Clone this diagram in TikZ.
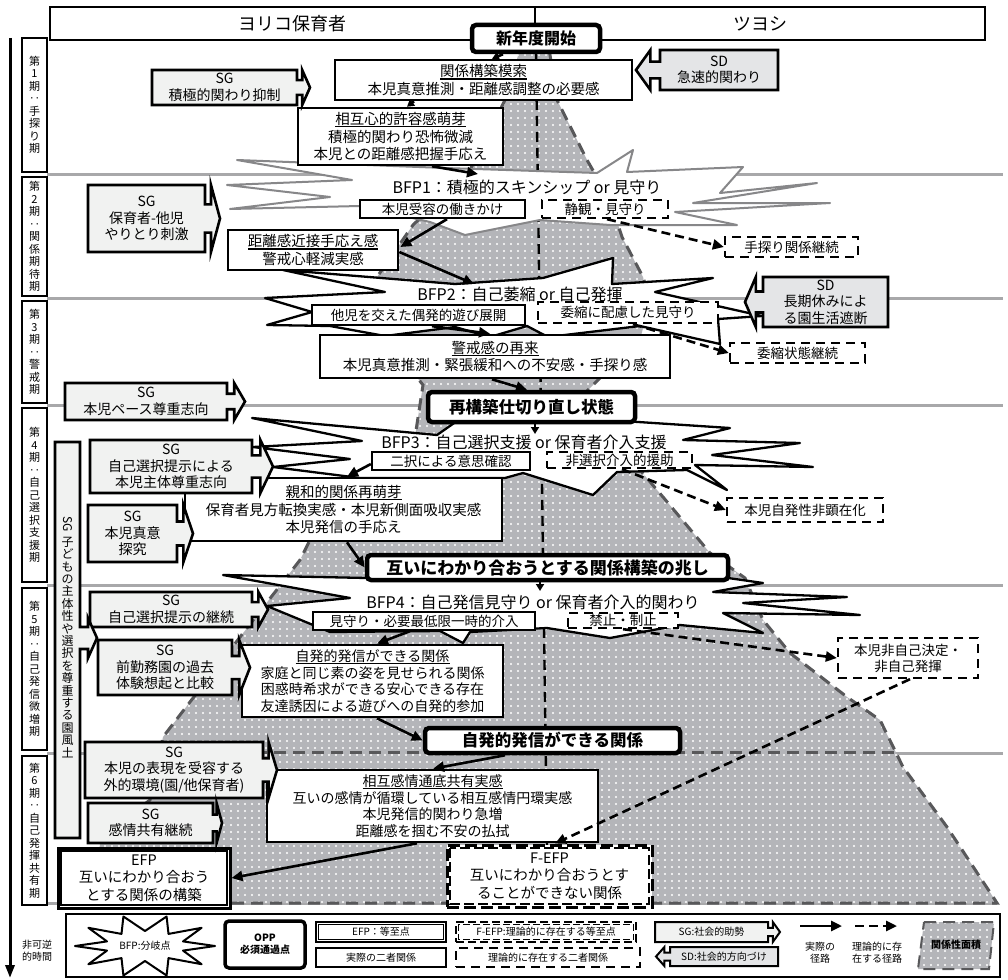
\documentclass[tikz,border=0pt]{standalone}
\usepackage{fontspec}
\setmainfont{Noto Sans CJK JP}
\usetikzlibrary{arrows.meta,patterns.meta,calc}
\definecolor{areagray}{RGB}{180,181,185}
\definecolor{edgegray}{RGB}{88,88,90}
\definecolor{phgray}{RGB}{168,168,170}
\definecolor{sgfill}{RGB}{241,242,241}
\definecolor{sdfill}{RGB}{228,229,231}
\definecolor{bfpgray}{RGB}{135,135,137}
\newcommand\ulfor[5]{%
 \pgfmathsetmacro\ulhalf{#5*#4/2}%
 \pgfmathsetmacro\uly{0.5*#4-(#2-1)*#3/2+0.5}%
 \draw[line width=1.1pt, black] ($(#1.center)+(-\ulhalf,\uly)$) -- ++(2*\ulhalf,0);}
\tikzset{
 bx/.style={draw=black, line width=2.6pt, fill=white, inner sep=0pt, align=center, font=\fontsize{14.5}{17.5}\selectfont},
 bxf/.style={bx, font=\fontsize{14}{16.6}\selectfont},
 sbx/.style={draw=black, line width=2.3pt, fill=white, inner sep=0pt, align=center, font=\fontsize{13.5}{16}\selectfont},
 dbx/.style={sbx, dash pattern=on 9pt off 6pt},
 opp/.style={draw=black, line width=4.5pt, rounded corners=4pt, fill=white, inner sep=0pt, align=center, font=\fontsize{16}{19}\selectfont\bfseries},
 phbox/.style={draw=black, line width=2.6pt, fill=white, inner sep=0pt, align=center, font=\fontsize{11}{12.5}\selectfont},
 hdr/.style={draw=black, line width=2.4pt, fill=white, inner sep=0pt, font=\fontsize{18}{20}\selectfont},
 callst/.style={draw=black, line width=2.6pt, line join=miter},
 txt/.style={inner sep=0pt, align=center, font=\fontsize{14}{16.5}\selectfont},
 bfptxt/.style={inner sep=0pt, font=\fontsize{16}{18}\selectfont},
 lg/.style={inner sep=0pt, align=center, font=\fontsize{10}{12}\selectfont},
 bfpg/.style={draw=bfpgray, line width=2pt, fill=white, line join=round},
 bfpk/.style={draw=black, line width=2.3pt, fill=white, line join=round},
 arr/.style={line width=2.6pt, -{Triangle[length=11pt,width=10pt]}},
 arrs/.style={line width=2.6pt, -{Triangle[length=7pt,width=8pt]}},
 darr/.style={line width=2.6pt, dash pattern=on 9pt off 5pt, -{Triangle[length=11pt,width=10pt]}},
 phl/.style={draw=phgray, line width=3pt},
 area/.style={preaction={fill=areagray}, pattern={Dots[distance=7pt,radius=1.05pt]}, pattern color=white, draw=edgegray, line width=3pt, dash pattern=on 12pt off 7pt}
}
\newcommand\rbox[7]{\node[#6, minimum width={(#4)-(#2)}, minimum height={(#5)-(#3)}] (#1) at ({((#2)+(#4))/2},{((#3)+(#5))/2}) {#7};}
\newcommand\sgR[8]{%
 \pgfmathsetmacro\myCy{(#3+#5)/2}%
 \pgfmathsetmacro\myNh{(#5-#3)*0.21}%
 \pgfmathsetmacro\myXn{#4+(#6-#4)*0.4}%
 \draw[callst, fill=#7] (#2,#3) -- (#4,#3) -- (#4,\myCy-\myNh) -- (\myXn,\myCy-\myNh) -- (\myXn,#3) -- (#6,\myCy) -- (\myXn,#5) -- (\myXn,\myCy+\myNh) -- (#4,\myCy+\myNh) -- (#4,#5) -- (#2,#5) -- cycle;
 \node[txt] (#1) at ({(#2+#4)/2},\myCy) {#8};}
\newcommand\sdL[8]{%
 \pgfmathsetmacro\myCy{(#3+#5)/2}%
 \pgfmathsetmacro\myNh{(#5-#3)*0.21}%
 \pgfmathsetmacro\myXn{#2-(#2-#6)*0.4}%
 \draw[callst, fill=#7] (#4,#3) -- (#2,#3) -- (#2,\myCy-\myNh) -- (\myXn,\myCy-\myNh) -- (\myXn,#3) -- (#6,\myCy) -- (\myXn,#5) -- (\myXn,\myCy+\myNh) -- (#2,\myCy+\myNh) -- (#2,#5) -- (#4,#5) -- cycle;
 \node[txt] (#1) at ({(#2+#4)/2},\myCy) {#8};}
\begin{document}
\begin{tikzpicture}[x=1pt,y=-1pt]
\useasboundingbox (0,0) rectangle (1008,979);
\fill[white] (0,0) rectangle (1008,979);
% phase lines
\foreach \yy in {174,298,405,585,753}{\draw[phl] (47,\yy) -- (1003,\yy);}
\draw[phl] (47,903) -- (997,903);
% relation area
\draw[area] (522,42) -- (548,42) -- (557,100) -- (587,160) -- (610,200) -- (622,237) -- (643,277) -- (650,300) -- (640,340) -- (600,378) -- (586,392) -- (592,420) -- (640,470) -- (663,497) -- (710,553) -- (745,578) -- (763,620) -- (790,653) -- (847,697) -- (880,720) -- (903,767) -- (947,827) -- (997,903) -- (98,903) -- (100,838) -- (150,800) -- (163,737) -- (247,628) -- (300,560) -- (320,520) -- (415,437) -- (423,385) -- (380,330) -- (377,277) -- (413,225) -- (470,170) -- (505,100) -- cycle;
\draw[edgegray, line width=3pt, dash pattern=on 12pt off 7pt] (160,752) -- (900,752);
% divider
\coordinate (divtop) at (536,52); \coordinate (divbot) at (547,845);
\draw[line width=2.4pt, dash pattern=on 10pt off 6pt] (divtop) -- (divbot);
% BFP shapes
\draw[bfpg] (227,185) -- (352,180) -- (237,160) -- (445,168) -- (597,173) -- (633,150) -- (627,172) -- (743,167) -- (720,193) -- (817,183) -- (693,203) -- (830,203) -- (675,212) -- (737,225) -- (610,225) -- (540,220) -- (465,235) -- (430,222) -- (360,206) -- (230,209) -- (330,197) -- cycle;
\draw[bfpk] (265,298) -- (385,292) -- (283,270) -- (455,284) -- (543,278) -- (613,258) -- (612,284) -- (713,278) -- (655,292) -- (762,316) -- (718,319) -- (720,344) -- (640,326) -- (548,337) -- (527,326) -- (490,337) -- (455,327) -- (385,336) -- (330,326) -- (267,325) -- (312,312) -- cycle;
\draw[bfpk] (623,421) -- (457,421) -- (437,435) -- (252,418) -- (362,441) -- (253,447) -- (350,459) -- (273,467) -- (360,478) -- (505,478) -- (523,473) -- (593,495) -- (617,472) -- (687,470) -- (727,490) -- (695,465) -- (813,467) -- (712,455) -- (800,443) -- (683,440) -- (730,428) -- cycle;
\draw[bfpk] (223,575) -- (367,578) -- (728,578) -- (763,583) -- (713,592) -- (847,597) -- (743,603) -- (860,615) -- (723,613) -- (763,633) -- (680,625) -- (610,638) -- (547,628) -- (470,632) -- (463,643) -- (440,631) -- (330,632) -- (267,606) -- (350,598) -- cycle;
\node[bfptxt] (bfp1t) at (527,187) {BFP1：積極的スキンシップ or 見守り};
\node[bfptxt] (bfp2t) at (520,294) {BFP2：自己萎縮 or 自己発揮};
\node[bfptxt] (bfp3t) at (524,442) {BFP3：自己選択支援 or 保育者介入支援};
\node[bfptxt] (bfp4t) at (533,602) {BFP4：自己発信見守り or 保育者介入的関わり};
\coordinate (bfp1in) at (478,174);
\coordinate (bfp2in) at (474,284);
\coordinate (bfp3in) at (535,434);
\coordinate (bfp4in) at (540,591);
% header
\node[hdr, minimum width=485, minimum height=33] (hdrL) at (292.5,23.5) {ヨリコ保育者};
\node[hdr, minimum width=450, minimum height=33] (hdrR) at (760,23.5) {ツヨシ};
% time axis
\coordinate (axtop) at (10,38); \coordinate (axbot) at (10,978);
\draw[line width=3pt, -{Triangle[length=13pt,width=9pt]}] (axtop) -- (axbot);
\node[lg] (irrev) at (37,951) {非可逆\\的時間};
% phase labels
\rbox{p1}{22}{38}{47}{172}{phbox}{第\\1\\期\\‥\\手\\探\\り\\期}
\rbox{p2}{22}{177}{47}{296}{phbox}{第\\2\\期\\‥\\関\\係\\期\\待\\期}
\rbox{p3}{22}{301}{47}{403}{phbox}{第\\3\\期\\‥\\警\\戒\\期}
\rbox{p4}{22}{408}{47}{582}{phbox}{第\\4\\期\\‥\\自\\己\\選\\択\\支\\援\\期}
\rbox{p5}{22}{588}{47}{750}{phbox}{第\\5\\期\\‥\\自\\己\\発\\信\\微\\増\\期}
\rbox{p6}{22}{756}{47}{905}{phbox}{第\\6\\期\\‥\\自\\己\\発\\揮\\共\\有\\期}
% boxes
\rbox{shin}{472}{25}{600}{52}{opp}{新年度開始}
\rbox{kan}{335}{60}{632}{100}{bx}{関係構築模索\\本児真意推測・距離感調整の必要感}
\rbox{sogo}{298}{108}{503}{165}{bx}{相互心的許容感萌芽\\積極的関わり恐怖微減\\本児との距離感把握手応え}
\rbox{juyo}{360}{200}{525}{218}{sbx}{本児受容の働きかけ}
\rbox{seikan}{542}{200}{668}{218}{dbx}{静観・見守り}
\rbox{kyori}{228}{230}{398}{270}{bx}{距離感近接手応え感\\警戒心軽減実感}
\rbox{tesaguri}{725}{237}{858}{257}{dbx}{手探り関係継続}
\rbox{tajiasobi}{312}{305}{525}{325}{sbx}{他児を交えた偶発的遊び展開}
\rbox{ishuku}{538}{302}{718}{323}{dbx}{委縮に配慮した見守り}
\rbox{ishukuK}{730}{343}{865}{363}{dbx}{委縮状態継続}
\rbox{keikai}{320}{335}{670}{378}{bx}{警戒感の再来\\本児真意推測・緊張緩和への不安感・手探り感}
\rbox{saikou}{428}{392}{635}{422}{opp, font=\fontsize{16.5}{19}\selectfont\bfseries}{再構築仕切り直し状態}
\rbox{nitaku}{372}{452}{530}{470}{sbx}{二択による意思確認}
\rbox{hisentaku}{547}{452}{692}{468}{dbx}{非選択介入的援助}
\rbox{hiken}{727}{498}{883}{522}{dbx}{本児自発性非顕在化}
\rbox{shinwa}{185}{478}{502}{541}{bx}{親和的関係再萌芽\\保育者見方転換実感・本児新側面吸収実感\\本児発信の手応え}
\rbox{kizashi}{367}{555}{728}{580}{opp, font=\fontsize{17}{19}\selectfont\bfseries}{互いにわかり合おうとする関係構築の兆し}
\rbox{mimamori}{313}{612}{535}{630}{sbx}{見守り・必要最低限一時的介入}
\rbox{kinshi}{568}{613}{678}{628}{dbx}{禁止・制止}
\rbox{hijiko}{838}{638}{978}{678}{dbx}{本児非自己決定・\\非自己発揮}
\rbox{jihatsu}{242}{645}{503}{717}{bxf}{自発的発信ができる関係\\家庭と同じ素の姿を見せられる関係\\困惑時希求ができる安心できる存在\\友達誘因による遊びへの自発的参加}
\rbox{jihatsuB}{425}{728}{680}{753}{opp, font=\fontsize{16.5}{19}\selectfont\bfseries}{自発的発信ができる関係}
\rbox{sogokan}{267}{770}{598}{842}{bxf}{相互感情通底共有実感\\互いの感情が循環している相互感情円環実感\\本児発信的関わり急増\\距離感を掴む不安の払拭}
\rbox{efp}{58}{848}{230}{908}{bx, line width=3pt}{EFP\\互いにわかり合おう\\とする関係の構築}
\draw[line width=1.2pt] ($(efp.north west)+(4.5,4.5)$) rectangle ($(efp.south east)+(-4.5,-4.5)$);
\rbox{fefp}{447}{845}{652}{907}{bx, line width=3pt, dash pattern=on 12pt off 5pt}{F-EFP\\互いにわかり合おうとす\\ることができない関係}
\draw[line width=1.2pt, dash pattern=on 10pt off 4pt] ($(fefp.north west)+(4.5,4.5)$) rectangle ($(fefp.south east)+(-4.5,-4.5)$);
% underlined titles
\ulfor{kan}{2}{17.5}{14.5}{6}
\ulfor{sogo}{3}{17.5}{14.5}{9}
\ulfor{kyori}{2}{17.5}{14.5}{9}
\ulfor{keikai}{2}{17.5}{14.5}{6}
\ulfor{shinwa}{3}{17.5}{14.5}{8}
\ulfor{jihatsu}{4}{16.6}{14}{11}
\ulfor{sogokan}{4}{16.6}{14}{10}
% SD callouts
\sdL{sdkyu}{660}{50}{778}{90}{636}{sdfill}{SD\\急速的関わり}
\sdL{sdchoki}{763}{277}{888}{327}{745}{sdfill}{\fontsize{14}{16}\selectfont SD\\長期休みによ\\る園生活遮断}
% SG callouts
\sgR{sg1}{152}{70}{297}{105}{310}{sgfill}{SG\\積極的関わり抑制}
\sgR{sg2}{88}{185}{205}{252}{220}{sgfill}{SG\\保育者-他児\\やりとり刺激}
\sgR{sg3}{65}{383}{227}{420}{245}{sgfill}{SG\\本児ペース尊重志向}
\sgR{sg4}{90}{440}{252}{493}{273}{sgfill}{SG\\自己選択提示による\\本児主体尊重志向}
\sgR{sg5}{88}{505}{177}{562}{193}{sgfill}{SG\\本児真意\\探究}
\sgR{sg6}{90}{592}{252}{627}{268}{sgfill}{SG\\自己選択提示の継続}
\sgR{sg7}{98}{640}{232}{695}{250}{sgfill}{SG\\前勤務園の過去\\体験想起と比較}
\sgR{sg8}{85}{742}{263}{798}{277}{sgfill}{SG\\本児の表現を受容する\\外的環境(園/他保育者)}
\sgR{sg9}{88}{803}{213}{843}{222}{sgfill}{SG\\感情共有継続}
% tall SG (culture)
\draw[callst, fill=sgfill] (55,442) -- (80,442) -- (80,627) -- (88,627) -- (88,618) -- (97,638) -- (88,658) -- (88,649) -- (80,649) -- (80,838) -- (55,838) -- cycle;
\node[inner sep=0pt, align=center, font=\fontsize{12}{12.4}\selectfont] (sgculture) at (67.5,637) {\rotatebox{-90}{SG}\\[4pt]子\\ど\\も\\の\\主\\体\\性\\や\\選\\択\\を\\尊\\重\\す\\る\\園\\風\\土};
% actual paths
\draw[arrs] (shin.south -| 503,0) -- (kan.north -| 492,0);
\draw[arrs] (kan.south -| 414,0) -- (sogo.north -| 407,0);
\draw[arr] (sogo.south -| 432,0) -- (bfp1in);
\draw[arr] (juyo.south -| 447,0) -- ($(kyori.east)+(1,-3)$);
\draw[arr] ($(kyori.east)+(0,2)$) -- (bfp2in);
\draw[arr] (tajiasobi.south -| 432,0) -- (keikai.north -| 490,0);
\draw[arr] (keikai.south -| 492,0) -- (saikou.north -| 527,0);
\draw[arrs] (saikou.south -| 535,0) -- (bfp3in);
\draw[arr] ($(nitaku.west)+(0,3)$) -- (shinwa.north -| 347,0);
\draw[arr] (shinwa.south -| 347,0) -- (kizashi.west);
\draw[arrs] (kizashi.south -| 540,0) -- (bfp4in);
\draw[arr] (mimamori.south -| 410,0) -- (jihatsu.north -| 377,0);
\draw[arr] (jihatsu.south -| 377,0) -- (jihatsuB.west);
\draw[arr] (jihatsuB.south -| 505,0) -- (sogokan.north -| 433,0);
\draw[arr] (sogokan.south -| 417,0) -- (efp.east |- 0,878);
% theoretical paths
\draw[darr] (seikan.south -| 607,0) -- (tesaguri.west);
\draw[darr] (ishuku.south -| 633,0) -- (ishukuK.west);
\draw[darr] (hisentaku.south -| 622,0) -- (hiken.west);
\draw[darr] (kinshi.south -| 623,0) -- (hijiko.west);
\draw[darr] (hijiko.south -| 910,0) -- (fefp.north -| 555,0);
% legend
\node[draw=black, line width=2.6pt, inner sep=0pt, minimum width=934, minimum height=63] (legend) at (533,945.5) {};
\draw[bfpk, line width=2pt] (215,946) -- (183,941.4) -- (201.6,927.8) -- (168.5,933.9) -- (166.6,916.5) -- (145,931) -- (123.4,916.5) -- (121.5,933.9) -- (88.4,927.8) -- (107,941.4) -- (75,946) -- (107,950.6) -- (88.4,964.2) -- (121.5,958.1) -- (123.4,975.5) -- (145,961) -- (166.6,975.5) -- (168.5,958.1) -- (201.6,964.2) -- (183,950.6) -- cycle;
\node[lg] (lgbfp) at (145,946) {BFP:分岐点};
\rbox{lgopp}{225}{921}{305}{968}{opp, line width=3.5pt, font=\fontsize{10}{12}\selectfont\bfseries}{OPP\\必須通過点}
\rbox{lgefp}{316}{922}{446}{942}{sbx, line width=2.4pt, font=\fontsize{10}{12}\selectfont}{EFP：等至点}
\draw[line width=1pt] ($(lgefp.north west)+(3.5,3.5)$) rectangle ($(lgefp.south east)+(-3.5,-3.5)$);
\rbox{lgreal}{316}{948}{446}{967}{sbx, line width=2pt, font=\fontsize{10}{12}\selectfont}{実際の二者関係}
\rbox{lgfefp}{456}{922}{636}{942}{sbx, line width=2.4pt, dash pattern=on 8pt off 4pt, font=\fontsize{10}{12}\selectfont}{F-EFP:理論的に存在する等至点}
\draw[line width=1pt, dash pattern=on 7pt off 3pt] ($(lgfefp.north west)+(3.5,3.5)$) rectangle ($(lgfefp.south east)+(-3.5,-3.5)$);
\rbox{lgtheo}{456}{948}{640}{967}{dbx, line width=2pt, font=\fontsize{10}{12}\selectfont}{理論的に存在する二者関係}
\sgR{lgsg}{655}{922}{768}{942}{780}{sgfill, line width=2pt}{\fontsize{10}{12}\selectfont SG:社会的助勢}
\sdL{lgsd}{670}{947}{778}{966}{656}{sdfill, line width=2pt}{\fontsize{10}{12}\selectfont SD:社会的方向づけ}
\coordinate (la1) at (800,926); \coordinate (la2) at (842,926);
\draw[arr] (la1) -- (la2);
\node[lg] (lgactual) at (820,953) {実際の\\径路};
\coordinate (lb1) at (855,926); \coordinate (lb2) at (897,926);
\draw[darr] (lb1) -- (lb2);
\node[lg] (lgtheopath) at (877,953) {理論的に存\\在する径路};
\draw[area, line width=2pt] (924,922) -- (994,922) -- (989,969) -- (918,969) -- cycle;
\node[lg, font=\fontsize{10}{12}\selectfont\bfseries] (lgarea) at (956,945) {関係性面積};
\end{tikzpicture}
\end{document}
